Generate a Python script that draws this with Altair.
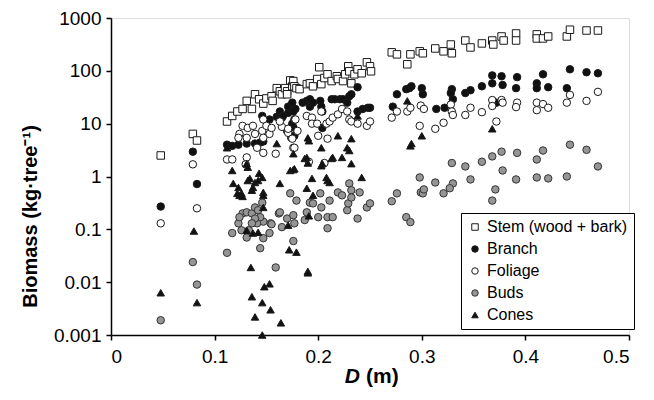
import altair as alt
import pandas as pd

components = ["Stem (wood + bark)", "Branch", "Foliage", "Buds", "Cones"]

stem_d = [0.048, 0.079, 0.083, 0.112, 0.117, 0.122, 0.127, 0.131, 0.136, 0.139, 0.143, 0.147, 0.150, 0.155,
          0.156, 0.160, 0.163, 0.165, 0.168, 0.170, 0.170, 0.173, 0.175, 0.176, 0.177, 0.179, 0.182, 0.189,
          0.192, 0.195, 0.199, 0.201, 0.203, 0.206, 0.209, 0.213, 0.218, 0.219, 0.224, 0.226, 0.229, 0.230,
          0.232, 0.235, 0.238, 0.242, 0.247, 0.250, 0.251, 0.271, 0.276, 0.286, 0.289, 0.298, 0.301, 0.313,
          0.321, 0.328, 0.329, 0.342, 0.347, 0.358, 0.368, 0.369, 0.377, 0.379, 0.391, 0.391, 0.411, 0.411,
          0.417, 0.422, 0.440, 0.443, 0.459, 0.470]
stem_b = [2.5, 6.4, 4.8, 11, 14, 17, 19, 27, 19, 36, 29, 24, 30, 33,
          27, 47, 41, 36, 47, 41, 36, 66, 51, 64, 51, 47, 45, 56,
          58, 51, 70, 117, 56, 73, 86, 64, 79, 70, 64, 86, 122, 98,
          58, 86, 107, 90, 145, 122, 98, 224, 205, 133, 205, 234, 215, 265,
          234, 315, 215, 375, 277, 330, 375, 315, 447, 375, 510, 375, 490, 410,
          410, 447, 447, 600, 580, 580]

branch_d = [0.048, 0.079, 0.083, 0.112, 0.117, 0.123, 0.131, 0.139, 0.144, 0.147, 0.146, 0.153, 0.160, 0.163,
            0.165, 0.171, 0.174, 0.178, 0.175, 0.176, 0.177, 0.163, 0.166, 0.171, 0.175, 0.176, 0.177, 0.185,
            0.189, 0.192, 0.192, 0.195, 0.202, 0.203, 0.204, 0.213, 0.216, 0.221, 0.224, 0.228, 0.230, 0.232,
            0.238, 0.238, 0.243, 0.248, 0.250, 0.276, 0.285, 0.288, 0.290, 0.300, 0.301, 0.272, 0.314, 0.322,
            0.329, 0.328, 0.330, 0.342, 0.347, 0.358, 0.368, 0.368, 0.377, 0.378, 0.372, 0.392, 0.391, 0.411,
            0.411, 0.417, 0.422, 0.440, 0.443, 0.459, 0.470, 0.175, 0.170, 0.174, 0.204]
branch_b = [0.27, 2.95, 0.72, 4.0, 3.8, 4.0, 4.2, 4.2, 4.4, 4.6, 14, 12, 13.5, 15,
            13, 16, 22, 19, 9, 8.5, 5.9, 17, 14, 21, 25, 17, 12, 25,
            27, 21, 29, 25, 27, 21, 17, 29, 29, 29, 29, 25, 33, 36,
            49, 17, 19, 20, 20, 36, 45, 47, 51, 47, 36, 21, 19, 20,
            45, 38, 29, 38, 43, 51, 82, 58, 79, 54, 25, 76, 47, 58,
            47, 86, 49, 47, 107, 94, 90, 10, 7.3, 5.4, 8.3]

foliage_d = [0.048, 0.079, 0.083, 0.112, 0.117, 0.127, 0.124, 0.123, 0.131, 0.132, 0.137, 0.139, 0.146, 0.147,
             0.147, 0.150, 0.153, 0.155, 0.165, 0.159, 0.147, 0.141, 0.131, 0.130, 0.176, 0.171, 0.178, 0.163,
             0.171, 0.175, 0.180, 0.189, 0.194, 0.194, 0.199, 0.203, 0.208, 0.211, 0.214, 0.219, 0.223, 0.228,
             0.230, 0.232, 0.238, 0.247, 0.250, 0.271, 0.276, 0.286, 0.289, 0.299, 0.302, 0.298, 0.313, 0.321,
             0.200, 0.209, 0.177, 0.328, 0.329, 0.330, 0.342, 0.347, 0.358, 0.368, 0.368, 0.372, 0.377, 0.378,
             0.392, 0.391, 0.411, 0.411, 0.417, 0.422, 0.440, 0.443, 0.459, 0.470, 0.191, 0.206]
foliage_b = [0.13, 1.7, 0.25, 2.1, 2.1, 9.1, 6.4, 5.4, 5.4, 8.3, 9.1, 6.4, 7.3, 5.4,
             12, 9.1, 6.4, 8.3, 8.7, 2.7, 2.8, 3.5, 2.3, 1.7, 3.5, 6.7, 12, 11,
             8, 5.2, 7.3, 14, 13, 10, 10, 17, 10, 11, 13, 15, 19, 17,
             12, 11, 10, 9.1, 11, 13, 17, 17, 20, 22, 19, 9.1, 8, 10.4,
             5.9, 5.2, 3.5, 23, 17, 14.6, 14.6, 20, 16.5, 28, 21.6, 11, 28, 25,
             25, 20.6, 25, 18, 23.5, 20, 25, 35, 27, 40, 1.9, 1.8]

buds_d = [0.048, 0.079, 0.083, 0.112, 0.117, 0.123, 0.127, 0.131, 0.136, 0.139, 0.142, 0.146, 0.147, 0.144,
          0.141, 0.131, 0.133, 0.144, 0.147, 0.153, 0.154, 0.159, 0.162, 0.165, 0.170, 0.173, 0.176, 0.177,
          0.179, 0.124, 0.139, 0.136, 0.126, 0.189, 0.192, 0.195, 0.202, 0.203, 0.211, 0.219, 0.223, 0.228,
          0.229, 0.230, 0.232, 0.232, 0.240, 0.247, 0.250, 0.238, 0.209, 0.214, 0.200, 0.187, 0.176, 0.209,
          0.155, 0.271, 0.276, 0.285, 0.289, 0.298, 0.299, 0.301, 0.302, 0.313, 0.321, 0.329, 0.342, 0.358,
          0.368, 0.377, 0.378, 0.347, 0.330, 0.327, 0.371, 0.368, 0.392, 0.391, 0.411, 0.411, 0.417, 0.422,
          0.440, 0.443, 0.459, 0.470, 0.163]
buds_b = [0.0019, 0.024, 0.009, 0.036, 0.085, 0.13, 0.20, 0.21, 0.20, 0.26, 0.23, 0.32, 0.14, 0.17,
          0.13, 0.07, 0.096, 0.044, 0.068, 0.085, 0.13, 0.019, 0.20, 0.11, 0.16, 0.48, 0.06, 0.13,
          0.35, 0.17, 0.16, 0.13, 0.096, 0.21, 0.32, 0.31, 0.48, 0.26, 0.35, 0.50, 0.44, 0.23,
          0.31, 0.74, 0.55, 0.40, 0.50, 0.26, 0.31, 0.16, 0.17, 0.17, 0.17, 0.15, 0.185, 0.105,
          0.125, 0.34, 0.48, 0.17, 0.137, 0.96, 0.50, 0.48, 0.57, 0.77, 0.48, 1.8, 1.55, 1.9,
          2.4, 2.95, 1.3, 0.88, 0.74, 0.60, 0.57, 0.35, 2.8, 0.88, 2.1, 0.96, 3.1, 0.92,
          1.0, 4.0, 3.2, 1.55, 0.21]

cones_d = [0.048, 0.080, 0.083, 0.112, 0.117, 0.131, 0.132, 0.118, 0.123, 0.126, 0.132, 0.136, 0.139, 0.143,
           0.146, 0.147, 0.160, 0.163, 0.173, 0.176, 0.177, 0.124, 0.127, 0.137, 0.147, 0.131, 0.137, 0.142,
           0.147, 0.171, 0.172, 0.179, 0.135, 0.148, 0.153, 0.136, 0.146, 0.154, 0.139, 0.164, 0.146, 0.134,
           0.142, 0.122, 0.191, 0.203, 0.187, 0.190, 0.203, 0.204, 0.213, 0.214, 0.223, 0.228, 0.230, 0.232,
           0.176, 0.194, 0.208, 0.209, 0.211, 0.242, 0.189, 0.195, 0.191, 0.290, 0.289, 0.286, 0.300, 0.368,
           0.238, 0.219, 0.232, 0.190, 0.189, 0.190, 0.190]
cones_b = [0.0063, 0.093, 0.0041, 3.5, 1.3, 1.75, 1.5, 0.74, 0.62, 0.48, 0.84, 0.55, 0.77, 1.15,
           0.96, 0.50, 4.2, 0.74, 1.3, 2.7, 1.4, 0.44, 0.42, 0.62, 0.44, 0.096, 0.085, 0.088,
           0.26, 0.12, 0.041, 0.037, 0.019, 0.0082, 0.0093, 0.0053, 0.0041, 0.003, 0.0022, 0.0017, 0.001, 0.92,
           0.84, 0.48, 4.75, 3.5, 2.2, 1.8, 1.6, 1.75, 2.2, 2.3, 2.3, 3.5, 3.1, 1.75,
           1.35, 0.92, 0.96, 0.84, 0.77, 0.96, 0.6, 0.44, 0.18, 4.2, 3.8, 27, 5.9, 8,
           14, 5.9, 5.2, 5.4, 2.3, 0.016, 0.015]

x_ticks = [0, 0.1, 0.2, 0.3, 0.4, 0.5]
y_ticks = [0.001, 0.01, 0.1, 1, 10, 100, 1000]

rows = []
for name, ds, bs in [(components[0], stem_d, stem_b), (components[1], branch_d, branch_b),
                     (components[2], foliage_d, foliage_b), (components[3], buds_d, buds_b),
                     (components[4], cones_d, cones_b)]:
    for d, b in zip(ds, bs):
        rows.append({"D": d, "Biomass": b, "Component": name})
df = pd.DataFrame(rows)
df["idx"] = range(len(df))

FONT = "Liberation Sans"

legend = alt.Legend(title=None, orient="none", legendX=350, legendY=195,
                    strokeColor="black", fillColor="white", padding=6,
                    labelFont=FONT, labelFontSize=16, labelColor="black",
                    symbolSize=42, symbolStrokeWidth=1,
                    rowPadding=6, labelOffset=4, cornerRadius=0)

points = alt.Chart(df).mark_point(
    filled=True, size=56, strokeWidth=1, opacity=1
).encode(
    x=alt.X("D:Q", scale=alt.Scale(domain=[0, 0.5], nice=False),
            axis=alt.Axis(values=x_ticks, format="~g", title=None, grid=False,
                          labelFontSize=19, labelFont=FONT, labelColor="black",
                          labelPadding=7, tickSize=5, tickWidth=1.5, tickColor="black",
                          domainColor="black", domainWidth=1.5)),
    y=alt.Y("Biomass:Q", scale=alt.Scale(type="log", domain=[0.001, 1000], nice=False),
            axis=alt.Axis(values=y_ticks, format="~g", grid=False,
                          title="Biomass (kg·tree⁻¹)", titleFont=FONT, titleFontSize=20,
                          titleFontWeight="bold", titleColor="black",
                          titleX=-81, titleY=198, titleAngle=-90,
                          titleAlign="center", titleBaseline="middle",
                          labelFontSize=19, labelFont=FONT, labelColor="black",
                          labelPadding=5, tickSize=5, tickWidth=1.5, tickColor="black",
                          domainColor="black", domainWidth=1.5)),
    shape=alt.Shape("Component:N", sort=components,
                    scale=alt.Scale(domain=components,
                                    range=["square", "circle", "circle", "circle", "triangle-up"]),
                    legend=legend),
    fill=alt.Fill("Component:N", sort=components,
                  scale=alt.Scale(domain=components,
                                  range=["white", "#111111", "white", "#959595", "#111111"]),
                  legend=legend),
    stroke=alt.Stroke("Component:N", sort=components,
                      scale=alt.Scale(domain=components,
                                      range=["#1a1a1a", "#1a1a1a", "#1a1a1a", "#333333", "#1a1a1a"]),
                      legend=legend),
    order=alt.Order("idx:Q"),
)

title_d = alt.Chart(pd.DataFrame({"t": ["D"]})).mark_text(
    font=FONT, fontSize=21, fontWeight="bold", fontStyle="italic", align="right",
    baseline="alphabetic", color="black"
).encode(x=alt.value(249), y=alt.value(365), text="t:N")

title_m = alt.Chart(pd.DataFrame({"t": ["(m)"]})).mark_text(
    font=FONT, fontSize=21, fontWeight="bold", align="left",
    baseline="alphabetic", color="black"
).encode(x=alt.value(255), y=alt.value(365), text="t:N")

chart = alt.layer(points, title_d, title_m).properties(
    width=518, height=317,
    autosize=alt.AutoSizeParams(type="none"),
    padding={"left": 103, "top": 10, "right": 17, "bottom": 57},
).configure_view(stroke=None).configure(background="white")

chart.save("out.html", embed_options={"renderer": "svg", "actions": False})
